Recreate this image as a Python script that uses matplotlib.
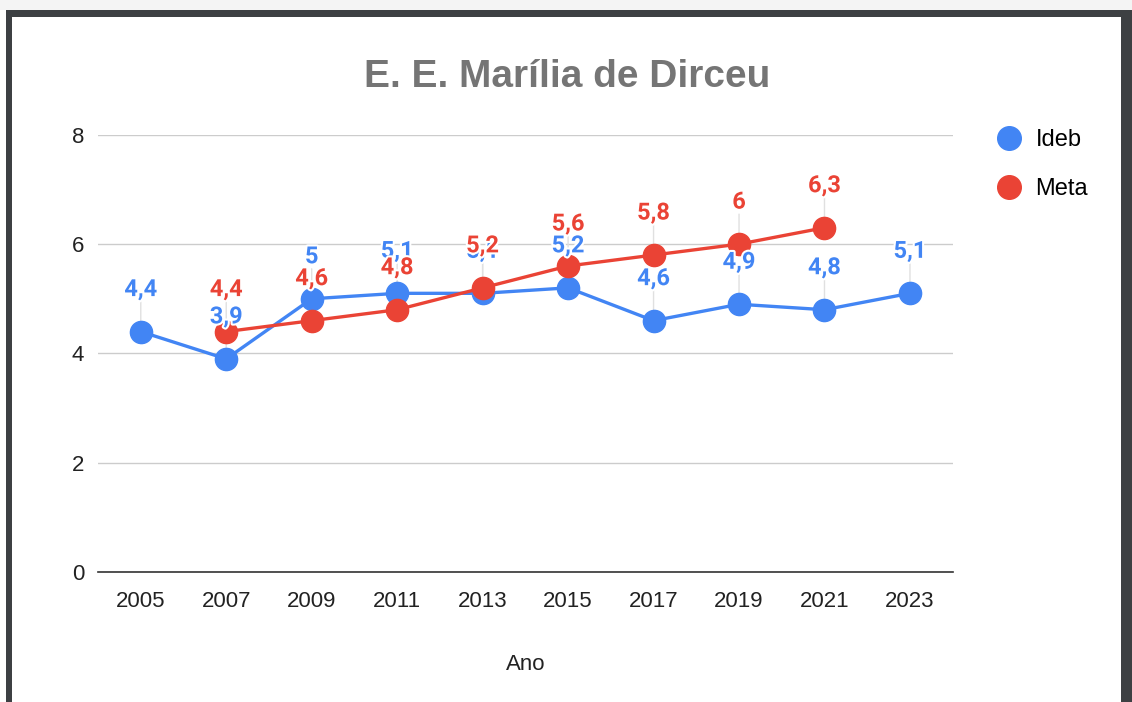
import matplotlib
matplotlib.use("Agg")
import matplotlib.pyplot as plt
import matplotlib.patheffects as pe
from matplotlib.lines import Line2D
from matplotlib.patches import Rectangle

# Dados do gráfico
anos = ["2005", "2007", "2009", "2011", "2013", "2015", "2017", "2019", "2021", "2023"]
ideb = [4.4, 3.9, 5.0, 5.1, 5.1, 5.2, 4.6, 4.9, 4.8, 5.1]
meta = [None, 4.4, 4.6, 4.8, 5.2, 5.6, 5.8, 6.0, 6.3, None]

azul = "#4285F4"
vermelho = "#EA4335"

plt.rcParams['font.family'] = ['Liberation Sans', 'DejaVu Sans']


def rotulo(v):
    # formato brasileiro: vírgula decimal, sem ",0"
    if v == int(v):
        return str(int(v))
    return ("%.1f" % v).replace(".", ",")


fig = plt.figure(figsize=(11.32, 7.02), dpi=100)
ax = fig.add_axes([0.0866, 0.185, 0.755, 0.623])

x = list(range(len(anos)))

# série Ideb
ax.plot(x, ideb, color=azul, lw=2.4, marker="o", markersize=16, zorder=3)
# série Meta
xm = [i for i, v in zip(x, meta) if v is not None]
vm = [v for v in meta if v is not None]
ax.plot(xm, vm, color=vermelho, lw=2.4, marker="o", markersize=16, zorder=4)

halo = [pe.withStroke(linewidth=3, foreground="white")]
for serie, xs, cor, z in [(ideb, x, azul, 5), (vm, xm, vermelho, 6)]:
    for i, v in zip(xs, serie):
        # linha guia até o rótulo (atrás dos pontos)
        ax.annotate("", xy=(i, v), xytext=(0, 30), textcoords="offset pixels",
                    zorder=2,
                    arrowprops=dict(arrowstyle="-", color="#e0e0e0", lw=1,
                                    shrinkA=0, shrinkB=0))
        ax.annotate(rotulo(v), xy=(i, v), xytext=(0, 42), textcoords="offset pixels",
                    ha="center", va="center", color=cor, fontsize=17,
                    fontweight="bold", family=["Roboto", "DejaVu Sans"],
                    path_effects=halo, zorder=z)

ax.set_xlim(-0.5, 9.5)
ax.set_ylim(0, 8)
ax.set_yticks([0, 2, 4, 6, 8])
ax.set_xticks(x)
ax.set_xticklabels(anos)
ax.tick_params(length=0, labelsize=16, colors="#222222")
ax.tick_params(axis="x", pad=13.5)
ax.tick_params(axis="y", pad=10)
ax.grid(axis="y", color="#cccccc", lw=1)
ax.set_axisbelow(True)
for s in ["top", "right", "left"]:
    ax.spines[s].set_visible(False)
ax.spines["bottom"].set_color("#333333")
ax.spines["bottom"].set_linewidth(1.2)
ax.spines["bottom"].set_zorder(2)

ax.set_xlabel("Ano", fontsize=16, color="#222222", labelpad=30)
fig.text(0.501, 0.891, "E. E. Marília de Dirceu", ha="center", va="center",
         fontsize=28, fontweight="bold", color="#757575")

handles = [Line2D([], [], color=azul, marker="o", linestyle="none", markersize=17),
           Line2D([], [], color=vermelho, marker="o", linestyle="none", markersize=17)]
fig.legend(handles, ["Ideb", "Meta"], loc="upper left", bbox_to_anchor=(0.873, 0.83),
           frameon=False, fontsize=17, handletextpad=0.6, labelspacing=1.15,
           handlelength=1.0, borderaxespad=0)

# moldura escura da captura
cor_borda = "#3d4043"
fig.add_artist(Rectangle((0, 1 - 10 / 702), 1, 10 / 702, transform=fig.transFigure,
                         color="#f4f4f4", lw=0))
fig.add_artist(Rectangle((6 / 1132, 1 - 17 / 702), 1, 7 / 702, transform=fig.transFigure,
                         color=cor_borda, lw=0))
fig.add_artist(Rectangle((6 / 1132, 0), 6 / 1132, 1 - 10 / 702, transform=fig.transFigure,
                         color=cor_borda, lw=0))
fig.add_artist(Rectangle((1121 / 1132, 0), 11 / 1132, 1 - 10 / 702, transform=fig.transFigure,
                         color=cor_borda, lw=0))

fig.savefig("out.png", dpi=100, facecolor="white")
